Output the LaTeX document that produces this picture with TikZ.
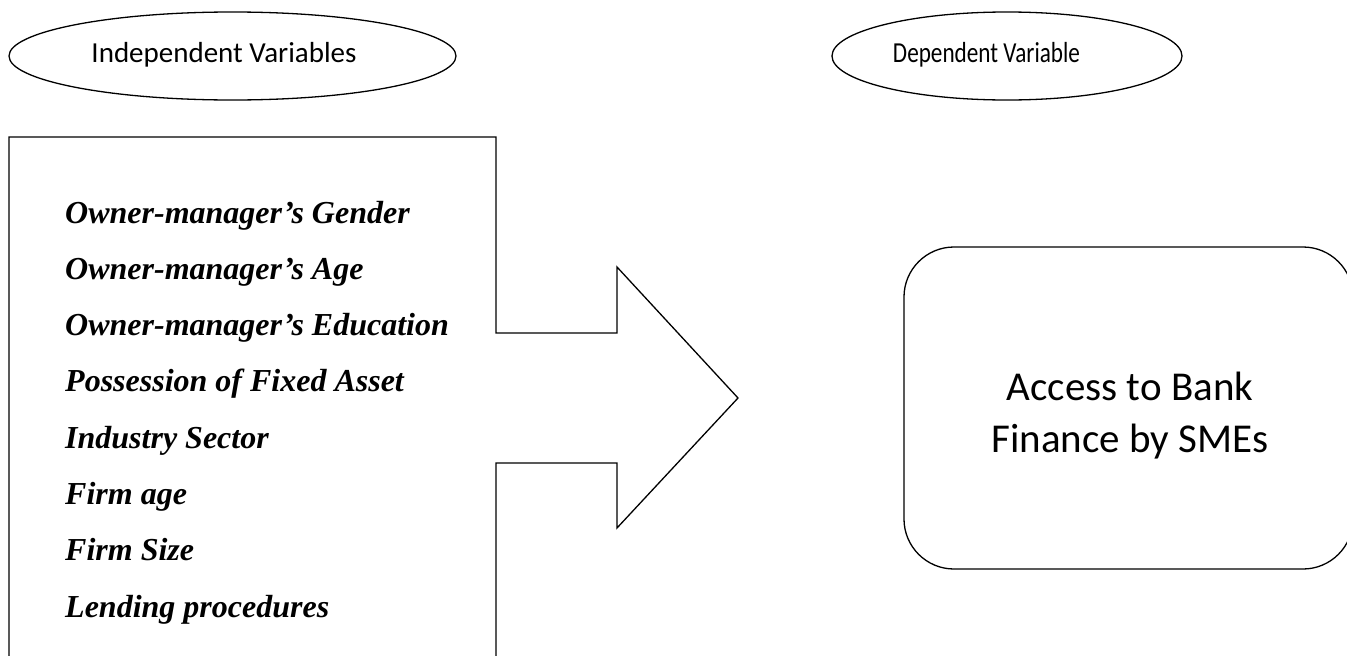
\documentclass[tikz,border=0pt]{standalone}
\usepackage{fontspec}
\setmainfont{Liberation Serif}
\newfontfamily\calibri{Carlito}
\newfontfamily\calibrinarrow[FakeStretch=0.8]{Carlito}
\usetikzlibrary{shapes.geometric}
\tikzset{
  oval/.style={draw, ellipse, line width=1.3pt, minimum width=447pt, minimum height=88pt, inner sep=0pt},
  outline/.style={line width=1.3pt, line join=miter},
  headtext/.style={anchor=base, inner sep=0pt, font=\calibri\fontsize{29}{29}\selectfont},
  varitem/.style={anchor=base west, inner sep=0pt, font=\fontsize{32}{32}\selectfont\bfseries\itshape},
  depbox/.style={draw, rounded corners=50pt, line width=1.3pt, minimum width=449pt, minimum height=322pt},
  boxtext/.style={anchor=base, inner sep=0pt, font=\calibri\fontsize{41}{41}\selectfont},
}
\begin{document}
\begin{tikzpicture}[x=1pt,y=-1pt]
\useasboundingbox (0,0) rectangle (1347,656);
\clip (0,0) rectangle (1347,656);
% headings
\node[oval] (indep) at (232.5,56) {};
\node[headtext] (indeptext) at (224,62) {Independent Variables};
\node[oval, minimum width=350pt] (dep) at (1007,56) {};
\node[headtext, font=\calibrinarrow\fontsize{29}{29}\selectfont] (deptext) at (986.5,62) {Dependent Variable};
% box with the arrow
\draw[outline] (9,670) -- (9,137) -- (496,137) -- (496,333) -- (617,333) -- (617,267)
  -- (738,398) -- (617,528) -- (617,463) -- (496,463) -- (496,670);
% variables
\foreach \t [count=\i] in {Owner-manager’s Gender, Owner-manager’s Age, Owner-manager’s Education,
  Possession of Fixed Asset, Industry Sector, Firm age, Firm Size, Lending procedures}
  \node[varitem] (var\i) at (65,{223+56.3*(\i-1)}) {\t};
% dependent variable
\node[depbox] (access) at (1128.5,408) {};
\node[boxtext] (accline1) at (1130,400) {Access to Bank};
\node[boxtext] (accline2) at (1130,452) {Finance by SMEs};
\end{tikzpicture}
\end{document}
